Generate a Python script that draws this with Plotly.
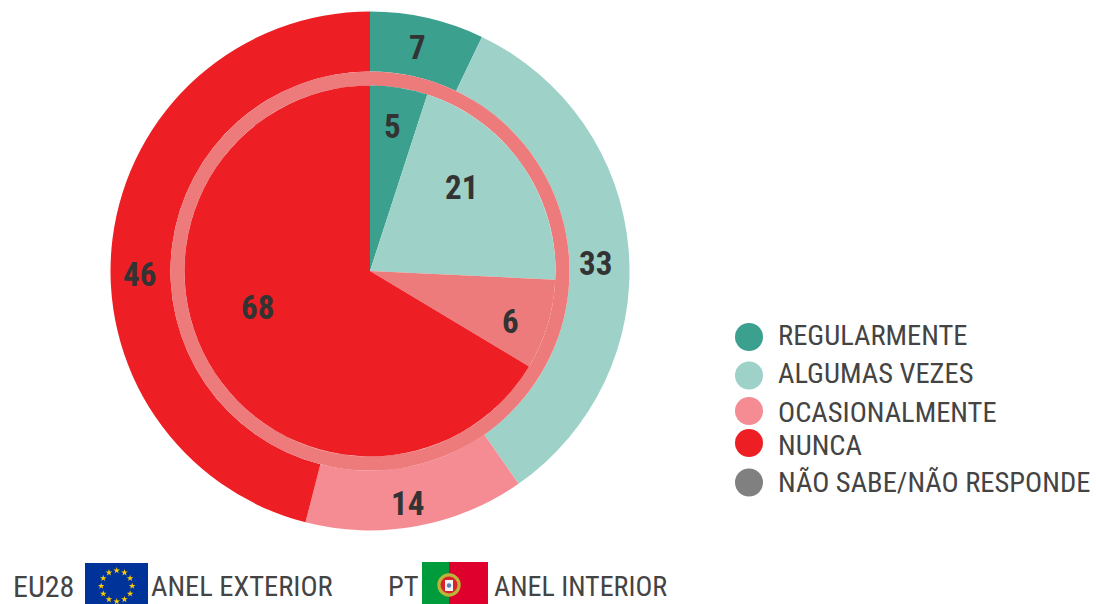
import math
import plotly.graph_objects as go

W, H = 1096, 604
categories = ["REGULARMENTE", "ALGUMAS VEZES", "OCASIONALMENTE", "NUNCA", "NÃO SABE/NÃO RESPONDE"]
# printed labels
outer_values = [7, 33, 14, 46, 0]
inner_values = [5, 21, 6, 68, 0]
# slice sizes as measured from the angles in the picture (the original's arcs differ slightly from its labels)
outer_shares = [7.1, 33.2, 13.7, 46.0, 0]
inner_shares = [5.0, 20.75, 7.85, 66.4, 0]
outer_colors = ["#3CA08F", "#9ED1C8", "#F58C93", "#ED1F24", "#808080"]
inner_colors = ["#3CA08F", "#9ED1C8", "#EE7B7B", "#ED1F24", "#808080"]
ring_color = "#EE7B7B"
number_color = "#333333"
label_color = "#444444"
FONT = "Roboto Condensed"

cx, cy = 370, 271
R_OUT, R_RING, R_IN = 259.5, 199.5, 185.5


def dom(r):
    return dict(x=[(cx - r) / W, (cx + r) / W], y=[1 - (cy + r) / H, 1 - (cy - r) / H])


def pie(values, colors, r, hole=0):
    return go.Pie(labels=categories, values=values, domain=dom(r), hole=hole, sort=False,
                  direction="clockwise", rotation=0, textinfo="none", hoverinfo="label+value",
                  marker=dict(colors=colors, line=dict(width=0)), showlegend=False)


fig = go.Figure()
fig.add_trace(pie(outer_shares, outer_colors, R_OUT, R_RING / R_OUT))
fig.add_trace(go.Pie(labels=["anel"], values=[1], domain=dom(R_RING), hole=R_IN / R_RING, sort=False,
                     textinfo="none", hoverinfo="skip", marker=dict(colors=[ring_color], line=dict(width=0)),
                     showlegend=False))
fig.add_trace(pie(inner_shares, inner_colors, R_IN))

ann = []
shapes = []


def text(x, y, s, size, anchor="center", weight="normal", color=label_color):
    ann.append(dict(x=x / W, y=1 - y / H, xref="paper", yref="paper", text=s, showarrow=False,
                    xanchor=anchor, yanchor="middle",
                    font=dict(family=FONT, size=size, color=color, weight=weight)))


def circle(x, y, r, c):
    shapes.append(dict(type="circle", xref="paper", yref="paper", x0=(x - r) / W, x1=(x + r) / W,
                       y0=1 - (y + r) / H, y1=1 - (y - r) / H, fillcolor=c, line=dict(width=0)))


def rect(x0, y0, x1, y1, c, layer="below"):
    shapes.append(dict(type="rect", xref="paper", yref="paper", x0=x0 / W, x1=x1 / W, y0=1 - y1 / H, y1=1 - y0 / H,
                       fillcolor=c, line=dict(width=0), layer=layer))


# slice value labels
outer_pos = [(417, 48), (596, 263), (407, 503), (139, 274)]
inner_pos = [(392, 126), (461, 187), (510, 322), (257, 307)]
for v, p in zip(outer_values, outer_pos):
    text(p[0], p[1], str(v), 33, weight="bold", color=number_color)
for v, p in zip(inner_values, inner_pos):
    text(p[0], p[1], str(v), 33, weight="bold", color=number_color)

# legend
leg_y = [337, 375.5, 411, 443, 482.5]
leg_text_y = [335, 373, 412, 445, 482]
for c, y, ty, name in zip(outer_colors, leg_y, leg_text_y, categories):
    circle(749, y, 14, c)
    text(776, ty, name, 28.5, "left")

# footer
text(11, 586, "EU28", 30, "left")
text(149, 586, "ANEL EXTERIOR", 28.5, "left")
text(386, 586, "PT", 28.5, "left")
text(492, 586, "ANEL INTERIOR", 28, "left")

# flags
rect(85, 563, 148, 604, "#003399")
rect(422, 562, 449, 604, "#009B3A")
rect(449, 562, 488, 604, "#E0002D")
circle(449, 585, 11.7, "#BDB43A")
circle(449, 585, 8.5, "#D8232A")
rect(445, 580, 453, 591, "#F4F4F4", layer="above")
circle(449, 585.5, 2.2, "#5B7DB8")

star_x = [116.7 + 15.5 * math.sin(k * math.pi / 6) for k in range(12)]
star_y = [586 - 15.5 * math.cos(k * math.pi / 6) for k in range(12)]
fig.add_trace(go.Scatter(x=star_x, y=star_y, mode="markers", hoverinfo="skip", showlegend=False,
                         marker=dict(symbol="star", size=5, color="#FFCC00", line=dict(width=0))))

fig.update_layout(width=W, height=H, margin=dict(l=0, r=0, t=0, b=0), paper_bgcolor="white",
                  plot_bgcolor="rgba(0,0,0,0)", shapes=shapes, annotations=ann,
                  xaxis=dict(visible=False, range=[0, W], fixedrange=True),
                  yaxis=dict(visible=False, range=[H, 0], fixedrange=True))
fig.write_html("out.html", config={"displayModeBar": False},
               post_script="document.body.style.margin='0';")
